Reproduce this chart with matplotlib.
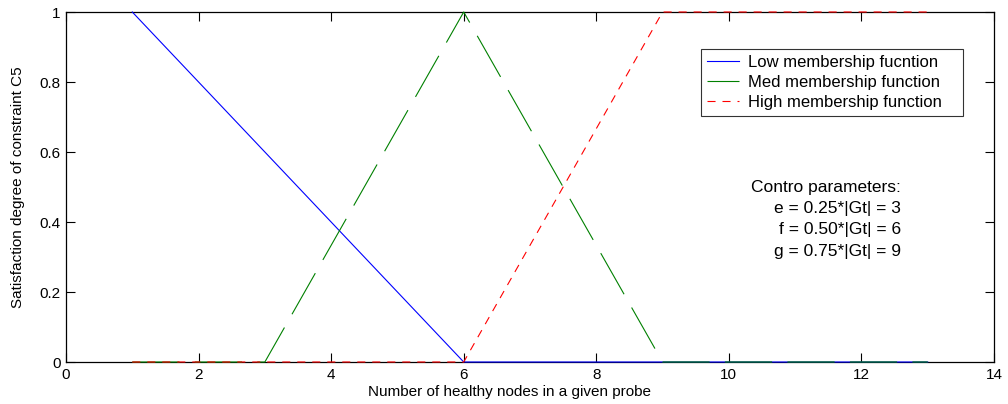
import matplotlib
matplotlib.use("Agg")
import matplotlib.pyplot as plt

plt.rcParams['font.family'] = ['Liberation Sans', 'DejaVu Sans']
plt.rcParams['lines.scale_dashes'] = False

x = [1, 2, 3, 4, 5, 6, 7, 8, 9, 10, 11, 12, 13]
low = [1, 0.8, 0.6, 0.4, 0.2, 0, 0, 0, 0, 0, 0, 0, 0]
med = [0, 0, 0, 1/3, 2/3, 1, 2/3, 1/3, 0, 0, 0, 0, 0]
high = [0, 0, 0, 0, 0, 0, 1/3, 2/3, 1, 1, 1, 1, 1]

labels = ["Low membership fucntion", "Med membership function", "High membership function"]
xticks = [0, 2, 4, 6, 8, 10, 12, 14]
yticks = [0, 0.2, 0.4, 0.6, 0.8, 1]
ytick_labels = ["0", "0.2", "0.4", "0.6", "0.8", "1"]

FS = 11
W, H = 1008, 404
fig = plt.figure(figsize=(W/100, H/100), dpi=100)
ax = fig.add_axes([66/W, 42/H, (994-66)/W, (362-12)/H])

ax.plot(x, low, color=(0, 0, 1), lw=0.8, label=labels[0], clip_on=False, zorder=3)
ax.plot(x, med, color=(0, 0.5, 0), lw=0.8, dashes=(34, 11), label=labels[1], clip_on=False, zorder=3)
ax.plot(x, high, color=(1, 0, 0), lw=0.8, dashes=(5.8, 5), label=labels[2], clip_on=False, zorder=3)

ax.set_xlim(0, 14)
ax.set_ylim(0, 1)
ax.set_xticks(xticks)
ax.set_yticks(yticks)
ax.set_yticklabels(ytick_labels)
ax.tick_params(direction='in', length=6.5, width=0.8, top=True, right=True,
               labelsize=FS, pad=4, colors='black')
for s in ax.spines.values():
    s.set_linewidth(0.9)

fig.text(510/W, 1 - 392/H, "Number of healthy nodes in a given probe", fontsize=FS,
         ha='center', va='center')
fig.text(18/W, 1 - 187/H, "Satisfaction degree of constraint C5", fontsize=FS,
         ha='center', va='center', rotation=90)

lx0, lx1, ly0, ly1 = 701, 963, 49, 116
leg = ax.legend(loc='upper left',
                bbox_to_anchor=((lx0-66)/928, (362-ly1)/350, (lx1-lx0)/928, (ly1-ly0)/350),
                mode='expand',
                fontsize=12, frameon=True, fancybox=False, edgecolor='black',
                handlelength=1.9, handletextpad=0.6, borderpad=0.35,
                labelspacing=0.3, borderaxespad=0)
leg.get_frame().set_linewidth(0.8)

ax.text((901-66)/928*14, 1 - (180-12)/350,
        "Contro parameters:\ne = 0.25*|Gt| = 3\nf = 0.50*|Gt| = 6\ng = 0.75*|Gt| = 9",
        ha='right', va='top', multialignment='right', fontsize=12.5, linespacing=1.52)

fig.savefig("out.png", dpi=100)
